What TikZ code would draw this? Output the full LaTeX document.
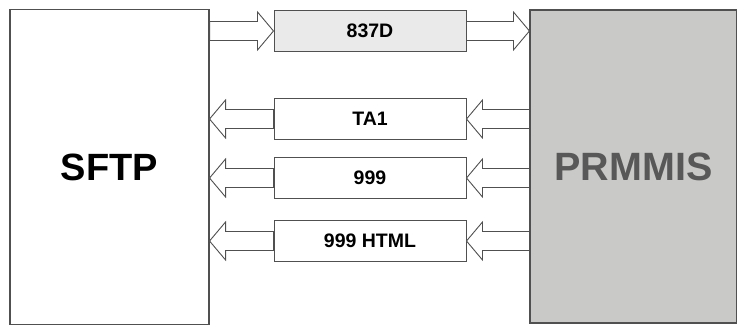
\documentclass[tikz,border=0pt]{standalone}
\usepackage{fontspec}
\setmainfont{Liberation Sans}
\usetikzlibrary{calc}
\definecolor{edge}{HTML}{505050}
\definecolor{sysgray}{HTML}{C9C9C7}
\definecolor{msggray}{HTML}{EAEAEA}
\definecolor{systext}{HTML}{585858}
\tikzset{
  sys/.style={draw=edge, line width=1.1pt, minimum height=315pt, inner sep=0pt, font=\fontsize{38}{40}\selectfont\bfseries},
  msg/.style={draw=edge, fill=white, line width=1pt, minimum width=192pt, minimum height=41pt, inner sep=0pt, font=\fontsize{19.5}{21}\selectfont\bfseries},
  fat/.style={draw=edge, fill=white, line width=0.9pt, line join=miter},
}
% hollow block arrow from #1 to the tip #2
\newcommand{\fatarrow}[2]{%
  \coordinate (fs) at (#1);
  \coordinate (ft) at (#2);
  \coordinate (fh) at ($(ft)!16pt!(fs)$);
  \draw[fat] ($(fs)!9.5pt!90:(ft)$) -- ($(fh)!9.5pt!90:(ft)$) -- ($(fh)!19pt!90:(ft)$) -- (ft)
    -- ($(fh)!19pt!-90:(ft)$) -- ($(fh)!9.5pt!-90:(ft)$) -- ($(fs)!9.5pt!-90:(ft)$) -- cycle;
}

\begin{document}
\begin{tikzpicture}[x=1pt, y=1pt]
    \useasboundingbox (0,0) rectangle (737,326);
    % systems
    \node[sys, fill=white, minimum width=199pt] (sftp) at (109.5,159) {SFTP};
    \node[sys, fill=sysgray, text=systext, minimum width=207pt, minimum height=313pt,
      font=\fontsize{39.5}{41}\selectfont\bfseries] (prmmis) at (633.5,159.5) {PRMMIS};
    % messages
    \node[msg, fill=msggray] (d837) at (370,295) {837D};
    \node[msg] (ta1)  at (370,207) {TA1};
    \node[msg] (n999) at (370,148) {999};
    \node[msg] (html) at (370,85)  {999 HTML};
    % flows
    \fatarrow{sftp.east |- d837.west}{d837.west}
    \fatarrow{d837.east}{prmmis.west |- d837.east}
    \foreach \m in {ta1, n999, html} {
      \fatarrow{prmmis.west |- \m.east}{\m.east}
      \fatarrow{\m.west}{sftp.east |- \m.west}
    }
\end{tikzpicture}
\end{document}
